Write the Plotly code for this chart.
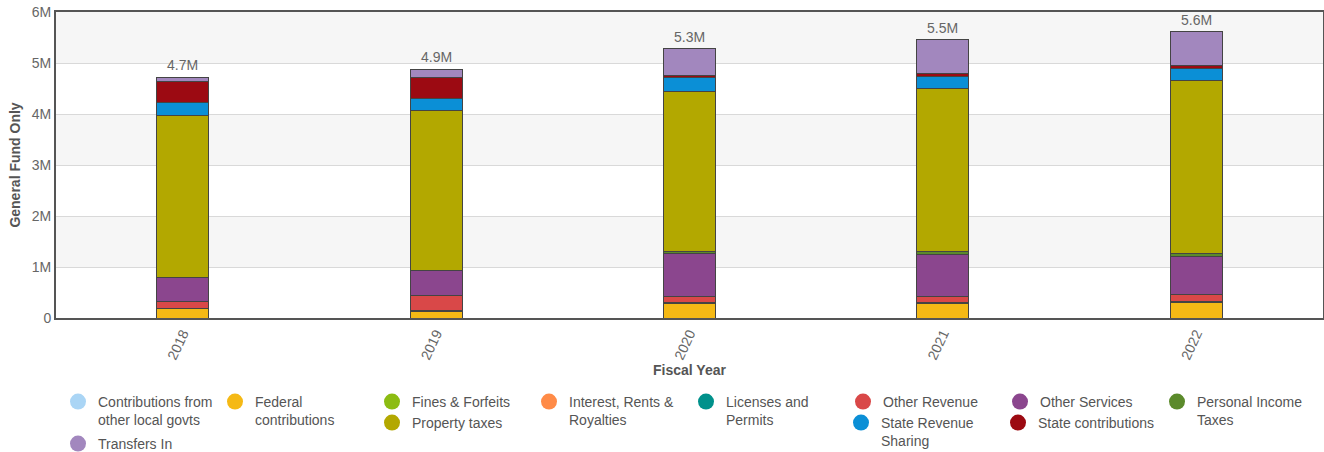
import plotly.graph_objects as go

years = ["2018", "2019", "2020", "2021", "2022"]

categories = [
    "Contributions from other local govts",
    "Federal contributions",
    "Fines & Forfeits",
    "Interest, Rents & Royalties",
    "Licenses and Permits",
    "Other Revenue",
    "Other Services",
    "Personal Income Taxes",
    "Property taxes",
    "State Revenue Sharing",
    "State contributions",
    "Transfers In",
]

contrib_local = [0, 0, 0, 0, 0]
federal = [180000, 120000, 290000, 280000, 300000]
fines = [4000, 6000, 6000, 6000, 8000]
interest = [4000, 6000, 6000, 6000, 8000]
licenses = [4000, 6000, 6000, 6000, 8000]
other_revenue = [140000, 300000, 110000, 130000, 140000]
other_services = [465000, 500000, 840000, 820000, 750000]
personal_income = [0, 0, 40000, 60000, 45000]
property_taxes = [3180000, 3130000, 3140000, 3190000, 3390000]
state_rev_sharing = [240000, 235000, 275000, 240000, 240000]
state_contrib = [420000, 420000, 45000, 65000, 70000]
transfers_in = [85000, 150000, 520000, 655000, 655000]

series = [contrib_local, federal, fines, interest, licenses, other_revenue,
          other_services, personal_income, property_taxes, state_rev_sharing,
          state_contrib, transfers_in]

colors = ["#aad5f5", "#f5b915", "#8cbc12", "#ff8b47", "#00918b", "#d94848",
          "#8b468e", "#5b8a2b", "#b3a800", "#0b8fd6", "#9c0a12", "#a287be"]

legend_names = [
    "Contributions from<br>other local govts",
    "Federal<br>contributions",
    "Fines & Forfeits",
    "Interest, Rents &<br>Royalties",
    "Licenses and<br>Permits",
    "Other Revenue",
    "Other Services",
    "Personal Income<br>Taxes",
    "Property taxes",
    "State Revenue<br>Sharing",
    "State contributions",
    "Transfers In",
]
legend_ids = ["legend"] * 8 + ["legend2", "legend3", "legend3", "legend4"]

W, H = 1324, 452
ML, MR, MT, MB = 56, 1, 12, 134


def cx(px):
    return px / W


def cy(py):
    return 1 - py / H


fig = go.Figure()
for name, vals, col in zip(categories, series, colors):
    fig.add_trace(go.Bar(
        x=years, y=vals, name=name, marker=dict(color=col, line=dict(color="#444444", width=1)),
        width=0.205, showlegend=False, legendgroup=name,
        hovertemplate="%{x}<br>" + name + ": %{y:,.0f}<extra></extra>",
    ))

totals = [sum(s[i] for s in series) for i in range(len(years))]
for i, tot in enumerate(totals):
    fig.add_annotation(x=i, y=tot, xref="x", yref="y", text=f"{tot/1e6:.1f}M",
                       showarrow=False, yanchor="bottom", yshift=2,
                       font=dict(size=14, color="#666666"))

for name, lname, col, lid in zip(categories, legend_names, colors, legend_ids):
    fig.add_trace(go.Scatter(
        x=[years[0]], y=[None], mode="markers", name=lname, legendgroup=name,
        marker=dict(color=col, size=16, symbol="circle"), legend=lid, showlegend=True,
        hoverinfo="skip",
    ))

for k in range(0, 6, 2):
    fig.add_shape(type="rect", xref="paper", yref="y", x0=0, x1=1,
                  y0=(k + 1) * 1e6, y1=(k + 2) * 1e6, fillcolor="#f6f6f6",
                  line=dict(width=0), layer="below")

legend_common = dict(orientation="h", xanchor="left", yanchor="top", valign="top",
                     xref="container", yref="container",
                     font=dict(size=14, color="#555555"), bgcolor="rgba(0,0,0,0)",
                     itemwidth=30, tracegroupgap=0, traceorder="normal", entrywidth=112)

fig.update_layout(
    width=W, height=H,
    margin=dict(l=ML, r=MR, t=MT, b=MB, autoexpand=False),
    barmode="stack",
    plot_bgcolor="white",
    paper_bgcolor="white",
    font=dict(family="Liberation Sans, Arial, sans-serif", size=14, color="#555555"),
    xaxis=dict(
        type="category", categoryorder="array", categoryarray=years,
        range=[-0.5, len(years) - 0.5],
        tickangle=-65, showline=True, linecolor="#555555", linewidth=2,
        mirror=True, ticks="", tickfont=dict(size=14, color="#666666"),
        title=dict(text="<b>Fiscal Year</b>", font=dict(size=14, color="#555555"), standoff=0),
    ),
    yaxis=dict(
        range=[0, 6e6], dtick=1e6, tickformat="~s", showline=True, linecolor="#555555",
        linewidth=2, mirror=True, gridcolor="#d9d9d9", gridwidth=1, zeroline=False,
        tickfont=dict(size=14, color="#666666"), ticks="",
        title=dict(text="<b>General Fund Only</b>", font=dict(size=14, color="#555555"), standoff=8),
    ),
    legend=dict(x=cx(58), y=cy(386), **legend_common),
    legend2=dict(x=cx(372), y=cy(407), **legend_common),
    legend3=dict(x=cx(841), y=cy(407), **legend_common),
    legend4=dict(x=cx(58), y=cy(428), **legend_common),
)

fig.write_html("out.html")
